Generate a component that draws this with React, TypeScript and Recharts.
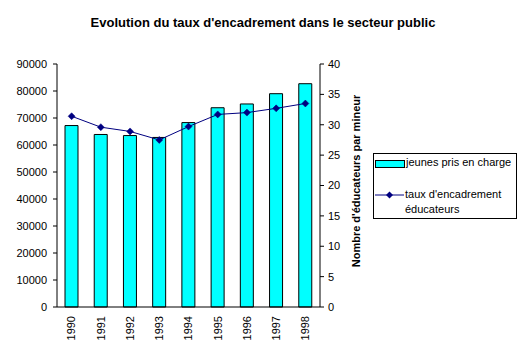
import React from 'react';
import { ComposedChart, Bar, Line, XAxis, YAxis, Legend } from 'recharts';

const years = ['1990', '1991', '1992', '1993', '1994', '1995', '1996', '1997', '1998'];
const jeunes = [67200, 63900, 63500, 62800, 68300, 73800, 75200, 79000, 82700];
const taux = [31.4, 29.6, 28.9, 27.5, 29.7, 31.7, 32.0, 32.7, 33.5];
const leftTicks = [0, 10000, 20000, 30000, 40000, 50000, 60000, 70000, 80000, 90000];
const rightTicks = [0, 5, 10, 15, 20, 25, 30, 35, 40];
const boundaryTicks = [0, 1, 2, 3, 4, 5, 6, 7, 8, 9];

const data = years.map((y, i) => ({ year: y, jeunes: jeunes[i], taux: taux[i] }));

const FONT = '"Liberation Sans", Arial, sans-serif';
const NAVY = '#000080';
const CYAN = '#00FFFF';

const Diamond = (props: any) => {
  const { cx, cy } = props;
  if (cx == null || cy == null) return null;
  const r = 3.5;
  return (
    <path
      key={`d-${cx}`}
      d={`M${cx},${cy - r}L${cx + r},${cy}L${cx},${cy + r}L${cx - r},${cy}Z`}
      fill={NAVY}
      stroke={NAVY}
      strokeWidth={0.5}
    />
  );
};

const YearTick = (props: any) => {
  const { x, y, payload } = props;
  return (
    <text
      transform={`translate(${x},${y}) rotate(-90)`}
      textAnchor="end"
      dy="0.35em"
      fontFamily={FONT}
      fontSize={11}
      fill="#000"
    >
      {payload.value}
    </text>
  );
};

const LegendBox = () => (
  <div
    style={{
      position: 'relative',
      boxSizing: 'border-box',
      width: 144,
      height: 66,
      border: '1px solid #000',
      background: '#fff',
      fontFamily: FONT,
      fontSize: 11,
      color: '#000',
      textAlign: 'left',
    }}
  >
    <div
      style={{
        position: 'absolute',
        left: 1,
        top: 6,
        width: 28,
        height: 6,
        boxSizing: 'content-box',
        background: CYAN,
        border: '1px solid #000',
      }}
    />
    <div style={{ position: 'absolute', left: 32, top: 1, lineHeight: '14px', whiteSpace: 'nowrap' }}>
      jeunes pris en charge
    </div>
    <svg style={{ position: 'absolute', left: 0, top: 34 }} width={32} height={14}>
      <line x1={1} y1={7} x2={30} y2={7} stroke={NAVY} strokeWidth={1} />
      <path d="M15.5,3.5L19,7L15.5,10.5L12,7Z" fill={NAVY} />
    </svg>
    <div style={{ position: 'absolute', left: 31, top: 33, lineHeight: '15px', whiteSpace: 'nowrap' }}>
      taux d'encadrement
      <br />
      éducateurs
    </div>
  </div>
);

export default function App() {
  return (
    <div style={{ position: 'absolute', left: 0, top: 0, width: 525, height: 356, background: '#fff' }}>
      <ComposedChart
        width={525}
        height={356}
        data={data}
        margin={{ top: 64, right: 165, bottom: 9, left: 0 }}
        barCategoryGap="55%"
      >
        <XAxis
          xAxisId="b"
          type="number"
          dataKey="none"
          domain={[0, 9]}
          ticks={boundaryTicks}
          tick={false}
          axisLine={false}
          tickLine={{ stroke: '#000' }}
          tickSize={4}
          height={0}
          allowDataOverflow
        />
        <XAxis
          dataKey="year"
          tick={<YearTick />}
          tickLine={false}
          tickSize={0}
          tickMargin={9}
          axisLine={{ stroke: '#000' }}
          height={40}
          interval={0}
        />
        <YAxis
          yAxisId="left"
          domain={[0, 90000]}
          ticks={leftTicks}
          width={57}
          tickSize={4}
          tickMargin={6}
          axisLine={{ stroke: '#000' }}
          tickLine={{ stroke: '#000' }}
          tick={{ fontFamily: FONT, fontSize: 11, fill: '#000' }}
          interval={0}
        />
        <YAxis
          yAxisId="right"
          orientation="right"
          domain={[0, 40]}
          ticks={rightTicks}
          width={40}
          tickSize={4}
          tickMargin={4}
          axisLine={{ stroke: '#000' }}
          tickLine={{ stroke: '#000' }}
          tick={{ fontFamily: FONT, fontSize: 11, fill: '#000' }}
          interval={0}
        />
        <Legend
          layout="horizontal"
          align="center"
          verticalAlign="middle"
          content={<LegendBox />}
          wrapperStyle={{ position: 'absolute', left: 373, top: 153, width: 144, height: 66 }}
        />
        <Bar
          yAxisId="left"
          dataKey="jeunes"
          name="jeunes pris en charge"
          fill={CYAN}
          stroke="#000"
          strokeWidth={1}
          barSize={13}
          isAnimationActive={false}
        />
        <Line
          yAxisId="right"
          dataKey="taux"
          name="taux d'encadrement éducateurs"
          stroke={NAVY}
          strokeWidth={1}
          dot={<Diamond />}
          activeDot={false}
          isAnimationActive={false}
        />
      </ComposedChart>
      <svg
        style={{ position: 'absolute', left: 0, top: 0, pointerEvents: 'none' }}
        width={525}
        height={356}
      >
        <text x={263} y={27} textAnchor="middle" fontFamily={FONT} fontSize={13} fontWeight="bold" fill="#000">
          Evolution du taux d'encadrement dans le secteur public
        </text>
        <text
          transform="translate(360,181) rotate(-90)"
          textAnchor="middle"
          fontFamily={FONT}
          fontSize={11}
          fontWeight="bold"
          fill="#000"
        >
          Nombre d'éducateurs par mineur
        </text>
      </svg>
    </div>
  );
}
